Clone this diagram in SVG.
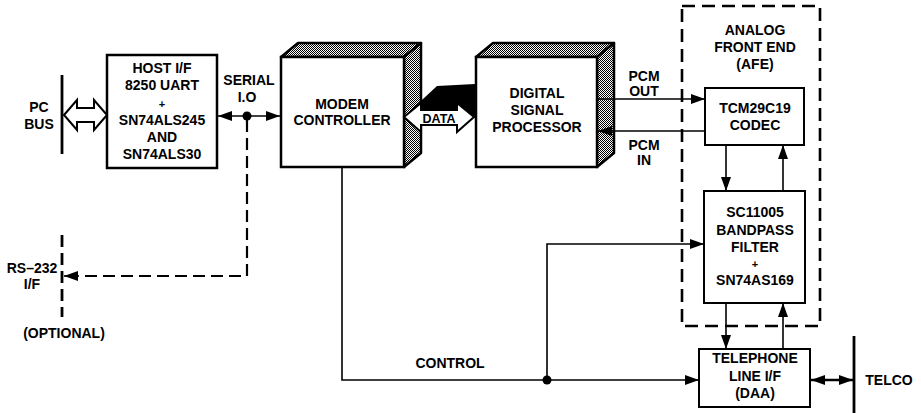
<svg xmlns="http://www.w3.org/2000/svg" width="921" height="413" viewBox="0 0 921 413">
<style>
text{font-family:"Liberation Sans",Arial,Helvetica,sans-serif;font-weight:bold;font-size:14px;fill:#000;text-anchor:middle}
.sm{font-size:11px}
.box{fill:#fff;stroke:#000;stroke-width:2.5}
.thin{fill:#fff;stroke:#000;stroke-width:2}
.hat{fill:url(#hatch);stroke:#000;stroke-width:2.5;stroke-linejoin:round}
.ln{fill:none;stroke:#000;stroke-width:1.6}
.dash{fill:none;stroke:#000;stroke-width:2.2;stroke-dasharray:12 6}
.bar{stroke:#000;stroke-width:2.8}
</style>
<defs>
<pattern id="hatch" width="2" height="2" patternUnits="userSpaceOnUse"><rect width="2" height="2" fill="#fff"/><rect width="1" height="1" fill="#000"/><rect x="1" y="1" width="1" height="1" fill="#000"/></pattern>
<marker id="ah" viewBox="0 0 14 10" refX="14" refY="5" markerWidth="14" markerHeight="10" markerUnits="userSpaceOnUse" orient="auto-start-reverse"><path d="M0,0 L14,5 L0,10 z" fill="#000"/></marker>
</defs>

<g id="pc-bus">
<line class="bar" x1="62" y1="75" x2="62" y2="154"/>
<text x="39" y="112">PC</text>
<text x="39" y="129">BUS</text>
</g>

<g id="host-if">
<rect class="box" x="107" y="55" width="110" height="113"/>
<text x="162" y="73">HOST I/F</text>
<text x="162" y="90">8250 UART</text>
<text x="162" y="108" class="sm">+</text>
<text x="162" y="125">SN74ALS245</text>
<text x="162" y="142">AND</text>
<text x="162" y="159">SN74ALS30</text>
</g>

<g id="serial-label">
<text x="249" y="85">SERIAL</text>
<text x="247" y="102">I.O</text>
</g>

<g id="modem-controller">
<polygon class="hat" points="281,57 298,43 421,43 404,57"/>
<polygon class="hat" points="404,57 421,43 421,153 404,167"/>
<rect class="box" x="281" y="57" width="123" height="110"/>
<text x="342" y="109">MODEM</text>
<text x="342" y="125">CONTROLLER</text>
</g>

<g id="dsp">
<polygon class="hat" points="476,57 493,43 614,43 597,57"/>
<polygon class="hat" points="597,57 614,43 614,153 597,167"/>
<rect class="box" x="476" y="57" width="121" height="110"/>
<text x="537" y="98">DIGITAL</text>
<text x="537" y="115">SIGNAL</text>
<text x="537" y="132">PROCESSOR</text>
</g>

<g id="afe">
<rect class="dash" x="682" y="6" width="138" height="320" style="stroke-width:2.6;stroke-dasharray:13 7"/>
<text x="755" y="35">ANALOG</text>
<text x="755" y="52">FRONT END</text>
<text x="755" y="69">(AFE)</text>
</g>

<g id="codec">
<rect class="thin" x="705" y="88" width="99" height="57"/>
<text x="755" y="113">TCM29C19</text>
<text x="755" y="130">CODEC</text>
</g>

<g id="bandpass">
<rect class="thin" x="704" y="191" width="101" height="112"/>
<text x="755" y="217">SC11005</text>
<text x="755" y="235">BANDPASS</text>
<text x="755" y="252">FILTER</text>
<text x="755" y="268" class="sm">+</text>
<text x="755" y="285">SN74AS169</text>
</g>

<g id="telephone">
<rect class="thin" x="699" y="349" width="111" height="58"/>
<text x="755" y="363">TELEPHONE</text>
<text x="755" y="381">LINE I/F</text>
<text x="755" y="398">(DAA)</text>
</g>

<g id="telco">
<line class="bar" x1="854" y1="336" x2="854" y2="413"/>
<text x="889" y="385">TELCO</text>
</g>

<g id="rs232">
<line class="dash" x1="62" y1="235" x2="62" y2="317" style="stroke-width:2.8"/>
<text x="32" y="273">RS–232</text>
<text x="32" y="289">I/F</text>
<text x="64" y="338">(OPTIONAL)</text>
</g>

<g id="connectors">
<polygon points="64,115 77,100 77,108 94,108 94,100 107,115 94,130 94,122 77,122 77,130" fill="#fff" stroke="#000" stroke-width="2"/>
<line class="ln" x1="218" y1="116" x2="280" y2="116" marker-start="url(#ah)" marker-end="url(#ah)"/>
<circle cx="247" cy="116" r="4.5" fill="#000"/>
<polyline class="dash" points="247,120 247,276 80,276"/>
<line x1="79" y1="276" x2="64" y2="276" stroke="#000" stroke-width="1.6" marker-end="url(#ah)"/>
<polygon points="409,112 437,86 475,84 475,118 440,118" fill="#000"/>
<polygon points="404,117 421,103 421,110 457,110 457,103 474,117 457,132 457,125 421,125 421,132" fill="#fff" stroke="#000" stroke-width="2"/>
<text x="439" y="123" style="font-size:12.5px">DATA</text>
<line class="ln" x1="597" y1="99" x2="705" y2="99" marker-end="url(#ah)"/>
<line class="ln" x1="705" y1="131" x2="598" y2="131" marker-end="url(#ah)"/>
<text x="644" y="81">PCM</text>
<text x="644" y="96">OUT</text>
<text x="644" y="150">PCM</text>
<text x="644" y="165">IN</text>
<line class="ln" x1="726" y1="145" x2="726" y2="191" marker-end="url(#ah)"/>
<line class="ln" x1="783" y1="191" x2="783" y2="145" marker-end="url(#ah)"/>
<line class="ln" x1="726" y1="303" x2="726" y2="349" marker-end="url(#ah)"/>
<line class="ln" x1="783" y1="349" x2="783" y2="303" marker-end="url(#ah)"/>
<polyline class="ln" points="342,167 342,380 699,380" marker-end="url(#ah)"/>
<polyline class="ln" points="547,380 547,244 704,244" marker-end="url(#ah)"/>
<circle cx="547" cy="380" r="4.5" fill="#000"/>
<text x="450" y="368">CONTROL</text>
<line x1="811" y1="380" x2="853" y2="380" stroke="#000" stroke-width="2.5" marker-start="url(#ah)" marker-end="url(#ah)"/>
</g>
</svg>
